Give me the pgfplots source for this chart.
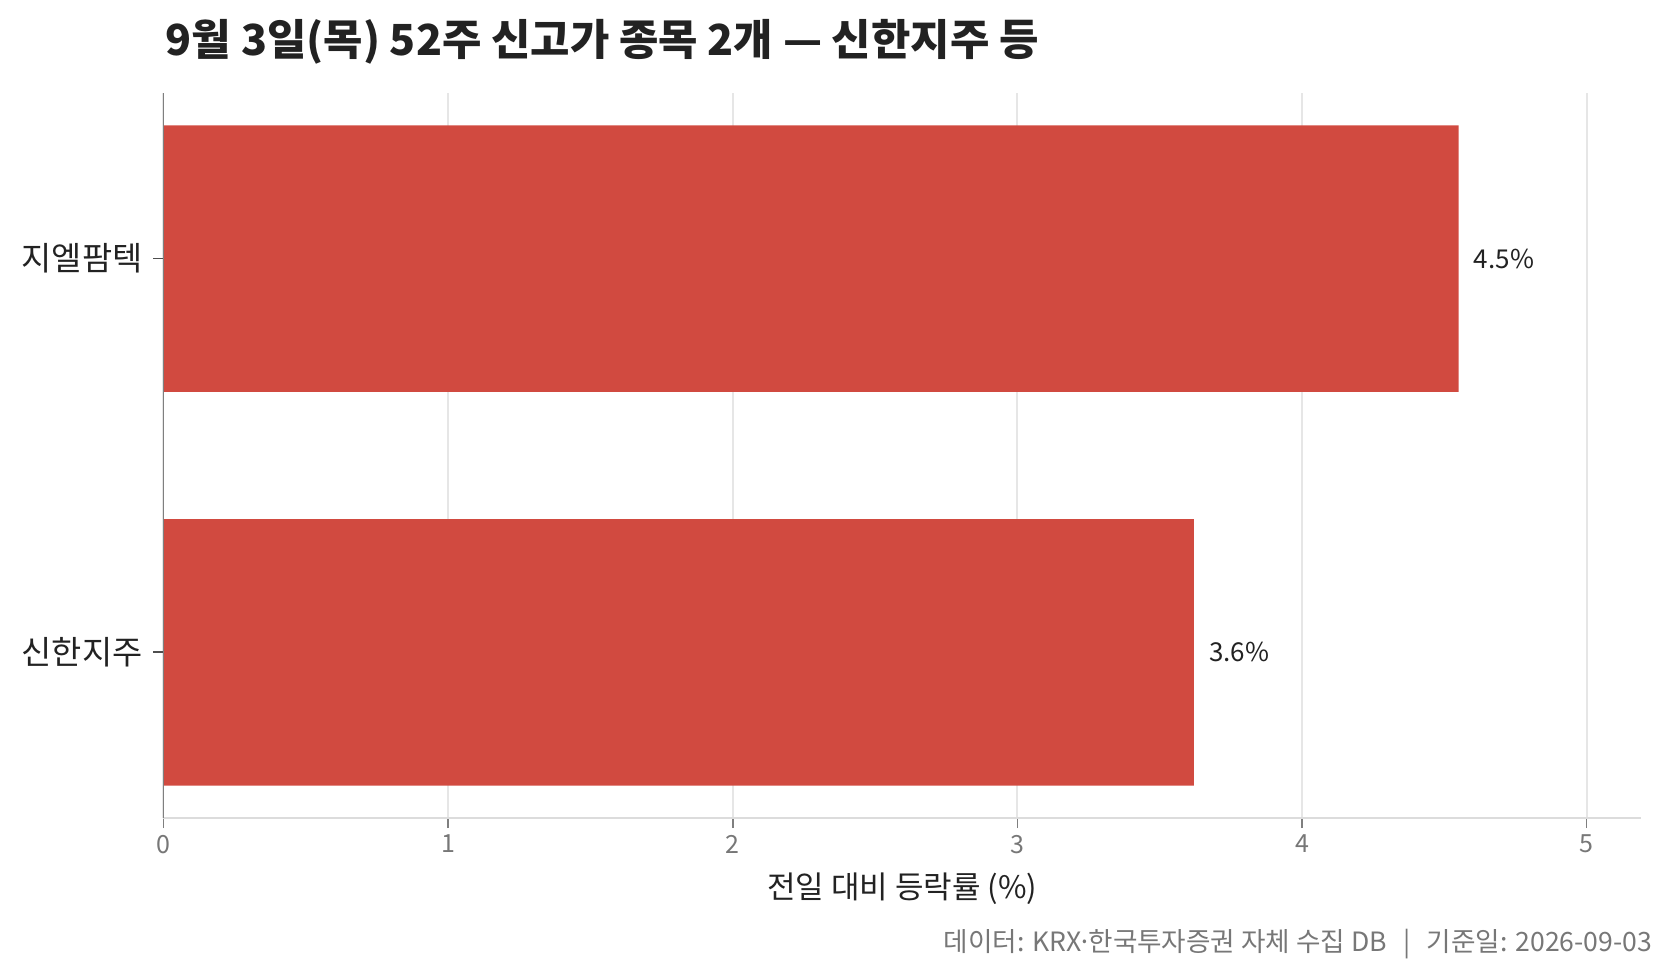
\documentclass[border=0pt]{standalone}
\usepackage{fontspec}
\setmainfont{Noto Sans CJK KR}
\usepackage{pgfplots}
\pgfplotsset{compat=1.18}

\definecolor{barred}{HTML}{D14A40}
\definecolor{gridgray}{HTML}{E6E6E6}
\definecolor{basegray}{HTML}{DCDCDC}
\definecolor{spinegray}{HTML}{7F7F7F}
\definecolor{ticktext}{HTML}{777777}
\definecolor{darktext}{HTML}{222222}

\begin{document}
\begin{tikzpicture}
\begin{axis}[
    scale only axis,
    width=738.6pt, height=362.5pt,
    xbar, bar width=0.677,
    xmin=0, xmax=5.19,
    ymin=-0.421, ymax=1.421,
    xtick={0,1,2,3,4,5},
    ytick={0,1},
    yticklabels={신한지주,지엘팜텍},
    axis x line*=bottom,
    axis y line*=left,
    x axis line style={draw=basegray, line width=1pt},
    y axis line style={draw=spinegray, line width=0.8pt},
    xmajorgrids,
    grid style={draw=gridgray, line width=1pt},
    tick align=outside,
    major tick length=5pt,
    x tick style={draw=spinegray, line width=0.8pt},
    y tick style={draw=darktext!80, line width=0.8pt},
    /pgf/number format/assume math mode=true,
    xticklabel style={font=\fontsize{12.5}{15}\selectfont, text=ticktext},
    yticklabel style={font=\fontsize{16.4}{20}\selectfont, text=darktext, xshift=-2pt},
    xlabel={전일 대비 등락률 (\%)},
    xlabel style={at={(rel axis cs:0.5,0)}, anchor=center, yshift=-35.5pt,
        font=\fontsize{15.5}{18}\selectfont, text=darktext},
    title={9월 3일(목) 52주 신고가 종목 2개 — 신한지주 등},
    title style={at={(rel axis cs:0,1)}, anchor=west, inner sep=0pt,
        xshift=1pt, yshift=19.5pt, font=\fontsize{21.4}{25}\selectfont\bfseries, text=darktext},
    point meta=explicit symbolic,
    nodes near coords={\pgfplotspointmeta},
    nodes near coords style={anchor=west, inner sep=0pt, xshift=7.5pt,
        font=\fontsize{13}{16}\selectfont, text=darktext},
    clip=false,
]
\addplot[fill=barred, draw=none] coordinates {(3.62,0) [3.6\%] (4.55,1) [4.5\%]};
% left spine redrawn over the bars
\draw[spinegray, line width=0.8pt] (rel axis cs:0,0) -- (rel axis cs:0,1);
\node[anchor=east, inner sep=0pt, text=ticktext, font=\fontsize{13.3}{16}\selectfont]
    at (rel axis cs:1,0) [xshift=5.9pt, yshift=-63pt]
    {데이터: KRX\kern-0.15em·\kern-0.15em한국투자증권 자체 수집 DB \ \,|\ \, 기준일: 2026-09-03};
\path (rel axis cs:0,0) ++(-81.75pt,-78.5pt) rectangle (rel axis cs:1,1) ++(16.15pt,46.5pt);
\end{axis}
\end{tikzpicture}
\end{document}
